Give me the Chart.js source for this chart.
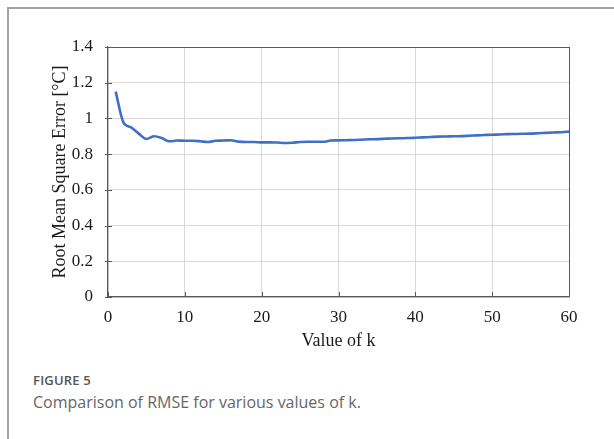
<!DOCTYPE html>
<html>
<head>
<meta charset="utf-8">
<script src="https://cdn.jsdelivr.net/npm/chart.js@4"></script>
<style>
  html, body { margin: 0; padding: 0; background: #fff; }
  body { width: 614px; height: 439px; position: relative; overflow: hidden; }
  .frame {
    position: absolute; left: 7px; top: 7px; right: -10px; bottom: -10px;
    border-left: 2px solid #a3a3a3; border-top: 2px solid #a3a3a3;
  }
  #wrap { position: absolute; left: 0; top: 0; width: 614px; height: 360px; }
  .fig-label {
    position: absolute; left: 33px; top: 371px;
    font-family: "Open Sans", sans-serif; font-size: 13px; font-weight: 600;
    color: #555; letter-spacing: 0.2px;
  }
  .fig-caption {
    position: absolute; left: 33px; top: 391px;
    font-family: "Open Sans", sans-serif; font-size: 16px; font-weight: 400;
    color: #666;
  }
</style>
</head>
<body>
<div class="frame"></div>
<div id="wrap"><canvas id="rmseChart" width="614" height="360"></canvas></div>
<div class="fig-label">FIGURE 5</div>
<div class="fig-caption">Comparison of RMSE for various values of k.</div>

<script>
// values, k = 1..60
const kValues = [
   1,  2,  3,  4,  5,  6,  7,  8,  9, 10,
  11, 12, 13, 14, 15, 16, 17, 18, 19, 20,
  21, 22, 23, 24, 25, 26, 27, 28, 29, 30,
  31, 32, 33, 34, 35, 36, 37, 38, 39, 40,
  41, 42, 43, 44, 45, 46, 47, 48, 49, 50,
  51, 52, 53, 54, 55, 56, 57, 58, 59, 60
];
const rmse = [
  1.150, 0.978, 0.950, 0.915, 0.885, 0.900, 0.890, 0.872, 0.876, 0.875,
  0.875, 0.872, 0.868, 0.875, 0.876, 0.878, 0.870, 0.868, 0.868, 0.866,
  0.866, 0.865, 0.862, 0.864, 0.868, 0.869, 0.869, 0.869, 0.876, 0.877,
  0.878, 0.879, 0.881, 0.883, 0.884, 0.886, 0.888, 0.889, 0.890, 0.892,
  0.894, 0.896, 0.898, 0.899, 0.900, 0.901, 0.903, 0.905, 0.907, 0.909,
  0.910, 0.912, 0.913, 0.914, 0.915, 0.917, 0.919, 0.921, 0.923, 0.926
];
const xTicks = [0, 10, 20, 30, 40, 50, 60];
const yTicks = [0, 0.2, 0.4, 0.6, 0.8, 1.0, 1.2, 1.4];

const AXIS_DARK = '#595959';
const GRID_LIGHT = '#d9d9d9';
const serif = '"Liberation Serif", "Times New Roman", serif';

// short tick stubs pointing into the plot, like the Excel original
const innerTicks = {
  id: 'innerTicks',
  afterDatasetsDraw(chart) {
    const { ctx, chartArea, scales } = chart;
    ctx.save();
    ctx.strokeStyle = AXIS_DARK;
    ctx.lineWidth = 1;
    ctx.beginPath();
    xTicks.forEach(v => {
      const px = Math.round(scales.x.getPixelForValue(v)) + 0.5;
      ctx.moveTo(px, chartArea.bottom);
      ctx.lineTo(px, chartArea.bottom - 5);
    });
    yTicks.forEach(v => {
      const py = Math.round(scales.y.getPixelForValue(v)) + 0.5;
      ctx.moveTo(chartArea.left - 3, py);
      ctx.lineTo(chartArea.left + 4, py);
    });
    ctx.stroke();
    ctx.restore();
  }
};

new Chart(document.getElementById('rmseChart'), {
  type: 'line',
  data: {
    datasets: [{
      data: kValues.map((k, i) => ({ x: k, y: rmse[i] })),
      borderColor: '#3f6fc6',
      borderWidth: 2.6,
      pointRadius: 0,
      tension: 0.4,
      cubicInterpolationMode: 'monotone',
      fill: false
    }]
  },
  options: {
    responsive: false,
    animation: false,
    layout: { padding: { left: 0, right: 45, top: 47, bottom: 0 } },
    plugins: { legend: { display: false }, tooltip: { enabled: false } },
    scales: {
      x: {
        type: 'linear',
        min: 0, max: 60,
        afterBuildTicks: s => { s.ticks = xTicks.map(v => ({ value: v })); },
        afterFit: s => { s.height = 63; },
        grid: {
          drawTicks: false,
          color: c => (c.tick && c.tick.value === 60) ? AXIS_DARK : GRID_LIGHT,
          lineWidth: 1
        },
        border: { color: AXIS_DARK, width: 1.2 },
        ticks: {
          padding: 10,
          color: '#1a1a1a',
          font: { family: serif, size: 17 },
          maxRotation: 0
        },
        title: {
          display: true,
          text: 'Value of k',
          color: '#1a1a1a',
          font: { family: serif, size: 18 },
          padding: { top: 0, bottom: 8 }
        }
      },
      y: {
        min: 0, max: 1.4,
        afterBuildTicks: s => { s.ticks = yTicks.map(v => ({ value: v })); },
        afterFit: s => { s.width = 108; },
        grid: {
          drawTicks: false,
          color: c => (c.tick && c.tick.value > 1.39) ? AXIS_DARK : GRID_LIGHT,
          lineWidth: 1
        },
        border: { color: AXIS_DARK, width: 1.2 },
        ticks: {
          padding: 15,
          color: '#1a1a1a',
          font: { family: serif, size: 17 },
          callback: v => String(Number(v.toFixed(1)))
        },
        title: {
          display: true,
          text: 'Root Mean Square Error [°C]',
          color: '#1a1a1a',
          font: { family: serif, size: 18 },
          padding: { top: 49, bottom: 0 }
        }
      }
    }
  },
  plugins: [innerTicks]
});
</script>
</body>
</html>
